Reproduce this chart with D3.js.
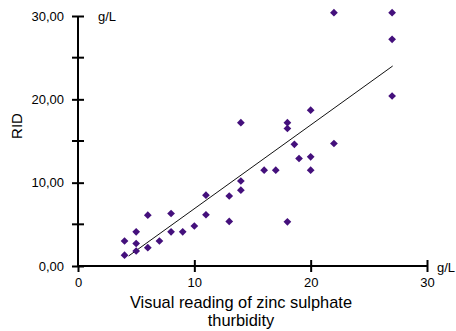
<!DOCTYPE html>
<html>
<head>
<meta charset="utf-8">
<script src="https://cdn.jsdelivr.net/npm/d3@7"></script>
<style>
  html, body { margin: 0; padding: 0; background: #fff; }
  svg { display: block; font-family: "Liberation Sans", Arial, Helvetica, sans-serif; }
</style>
</head>
<body>
<svg id="chart" width="456" height="331"></svg>
<script>
// Data
const visualReading = [4, 4, 5, 5, 5, 6, 6, 7, 8, 8, 9, 10, 11, 11, 13, 13, 14, 14, 14,
                       16, 17, 18, 18, 18, 18.6, 19, 20, 20, 20, 22, 22, 27, 27, 27];
const ridValue      = [3.0, 1.3, 4.1, 2.7, 1.8, 6.1, 2.2, 3.0, 6.3, 4.1, 4.1, 4.8, 8.5, 6.15, 8.4, 5.35, 10.2, 9.1, 17.2,
                       11.5, 11.5, 17.2, 16.5, 5.3, 14.6, 12.9, 18.7, 13.1, 11.5, 30.4, 14.7, 30.4, 27.2, 20.4];
// Regression line end points
const fitX = [4.35, 27.05];
const fitY = [1.2, 24.0];
const xTicks = [0, 10, 20, 30];
const yMajorTicks = [0, 10, 20, 30];
const yMinorTicks = [5, 15, 25];
const xTitleLines = ["Visual reading of zinc sulphate", "thurbidity"];
const yTitle = "RID";
const unitLabel = "g/L";

const svg = d3.select("#chart");
const x = d3.scaleLinear().domain([0, 30]).range([78, 427]);
const y = d3.scaleLinear().domain([0, 30]).range([266, 16]);
const ink = "#000";
const markColor = "#44107c";
const font = "'Liberation Sans', Arial, sans-serif";

// Y axis
const yAxis = d3.axisLeft(y)
  .tickValues(yMajorTicks)
  .tickSizeInner(6).tickSizeOuter(0)
  .tickFormat(d => d3.format(".2f")(d).replace(".", ","));
const gy = svg.append("g").attr("transform", `translate(${x(0)},0)`).call(yAxis);
gy.select(".domain").attr("stroke", ink).attr("stroke-width", 2)
  .attr("d", `M0,${y(30)}V${y(0)}`);
gy.selectAll(".tick line").attr("x1", -6).attr("x2", 6).attr("stroke", ink).attr("stroke-width", 2);
gy.selectAll(".tick text").attr("x", -14).attr("font-size", 13).attr("fill", ink)
  .attr("font-family", font);
// minor ticks
svg.append("g").selectAll("line").data(yMinorTicks).join("line")
  .attr("x1", x(0) - 6).attr("x2", x(0) + 6)
  .attr("y1", d => y(d)).attr("y2", d => y(d))
  .attr("stroke", ink).attr("stroke-width", 2);

// X axis
const xAxis = d3.axisBottom(x)
  .tickValues(xTicks)
  .tickSizeInner(6).tickSizeOuter(0)
  .tickFormat(d3.format("d"));
const gx = svg.append("g").attr("transform", `translate(0,${y(0)})`).call(xAxis);
gx.select(".domain").attr("stroke", ink).attr("stroke-width", 2)
  .attr("d", `M${x(0) - 1},0H${x(30)}`);
gx.selectAll(".tick line").attr("y1", d => d === 0 ? 0 : -6).attr("y2", 6)
  .attr("stroke", ink).attr("stroke-width", 2);
gx.selectAll(".tick text").attr("y", 12).attr("font-size", 13).attr("fill", ink)
  .attr("font-family", font);

// Unit labels
svg.append("text").attr("x", x(0) + 20).attr("y", y(30) + 5)
  .attr("font-size", 13).attr("fill", ink).text(unitLabel);
svg.append("text").attr("x", x(30) + 10).attr("y", y(0) + 6)
  .attr("font-size", 13).attr("fill", ink).text(unitLabel);

// Titles
svg.append("text").attr("transform", `translate(22,126) rotate(-90)`)
  .attr("text-anchor", "middle").attr("font-size", 15).attr("fill", ink).text(yTitle);
svg.append("g").selectAll("text").data(xTitleLines).join("text")
  .attr("x", 241).attr("y", (d, i) => 308 + i * 18)
  .attr("text-anchor", "middle").attr("font-size", 16.4).attr("fill", ink)
  .text(d => d);

// Regression line
svg.append("line")
  .attr("x1", x(fitX[0])).attr("y1", y(fitY[0]))
  .attr("x2", x(fitX[1])).attr("y2", y(fitY[1]))
  .attr("stroke", "#111").attr("stroke-width", 1);

// Points
const diamond = d3.symbol().type(d3.symbolSquare).size(30);
svg.append("g").selectAll("path")
  .data(visualReading.map((v, i) => [v, ridValue[i]]))
  .join("path")
  .attr("d", diamond)
  .attr("transform", d => `translate(${x(d[0])},${y(d[1])}) rotate(45)`)
  .attr("fill", markColor);
</script>
</body>
</html>
